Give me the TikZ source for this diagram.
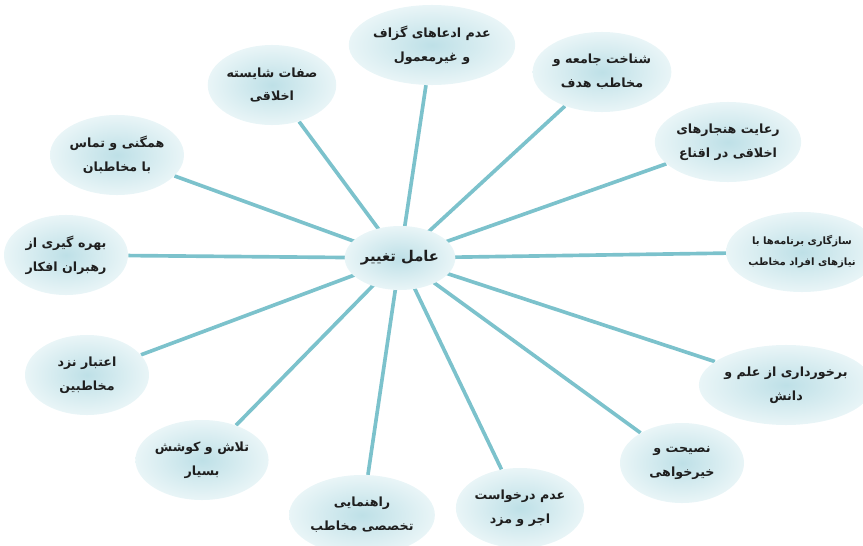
\documentclass[tikz,border=0pt]{standalone}
\usepackage{fontspec}
\usetikzlibrary{shapes.geometric,backgrounds}
\newfontfamily\farsi[Script=Arabic]{DejaVu Sans}
\TeXXeTstate=1
\definecolor{ink}     {HTML}{1E1E1E}
\definecolor{spoke}   {HTML}{7CC2CC}
\definecolor{blob}    {HTML}{BEE0E7}
\definecolor{blobrim} {HTML}{E9F5F7}
\newcommand{\fa}[1]{\beginR #1\endR}
\tikzset{
  % --- nodes
  leaf/.style = {ellipse, inner sep=0pt, align=center, text=ink,
                 minimum width=3.1cm, minimum height=2cm,
                 inner color=blob, outer color=blobrim,
                 font=\farsi\bfseries\fontsize{9}{17}\selectfont},
  hub/.style  = {leaf, minimum width=2.7cm, minimum height=1.6cm,
                 font=\farsi\bfseries\fontsize{10.5}{12}\selectfont},
  % --- edges
  spk/.style  = {draw=spoke, line width=2.6pt},
}
\begin{document}
\begin{tikzpicture}[x=0.025cm, y=-0.025cm]
  \useasboundingbox (0,0) rectangle (863,546);
  \node[hub]  (hub) at (400,258) {\fa{عامل تغییر}};
  \node[leaf] (a) at (432,45)  {\fa{عدم ادعاهای گزاف}\\\fa{و غیرمعمول}};
  \node[leaf] (b) at (602,72)  {\fa{شناخت جامعه و}\\\fa{مخاطب هدف}};
  \node[leaf] (c) at (728,142) {\fa{رعایت هنجارهای}\\\fa{اخلاقی در اقناع}};
  \node[leaf, minimum width=2.9cm, font=\farsi\bfseries\fontsize{7.2}{15}\selectfont]
              (d) at (802,252) {\fa{سازگاری برنامه‌ها با}\\\fa{نیازهای افراد مخاطب}};
  \node[leaf] (e) at (786,385) {\fa{برخورداری از علم و}\\\fa{دانش}};
  \node[leaf] (f) at (682,463) {\fa{نصیحت و}\\\fa{خیرخواهی}};
  \node[leaf] (g) at (520,508) {\fa{عدم درخواست}\\\fa{اجر و مزد}};
  \node[leaf] (h) at (362,515) {\fa{راهنمایی}\\\fa{تخصصی مخاطب}};
  \node[leaf] (i) at (202,460) {\fa{تلاش و کوشش}\\\fa{بسیار}};
  \node[leaf] (j) at (87,375)  {\fa{اعتبار نزد}\\\fa{مخاطبین}};
  \node[leaf] (k) at (66,255)  {\fa{بهره گیری از}\\\fa{رهبران افکار}};
  \node[leaf] (l) at (117,155) {\fa{همگنی و تماس}\\\fa{با مخاطبان}};
  \node[leaf] (m) at (272,85)  {\fa{صفات شایسته}\\\fa{اخلاقی}};
  \begin{scope}[on background layer]
    \foreach \n in {a,b,c,d,e,f,g,h,i,j,k,l,m}
      \draw[spk] (hub.center) -- (\n);
  \end{scope}
\end{tikzpicture}
\end{document}
